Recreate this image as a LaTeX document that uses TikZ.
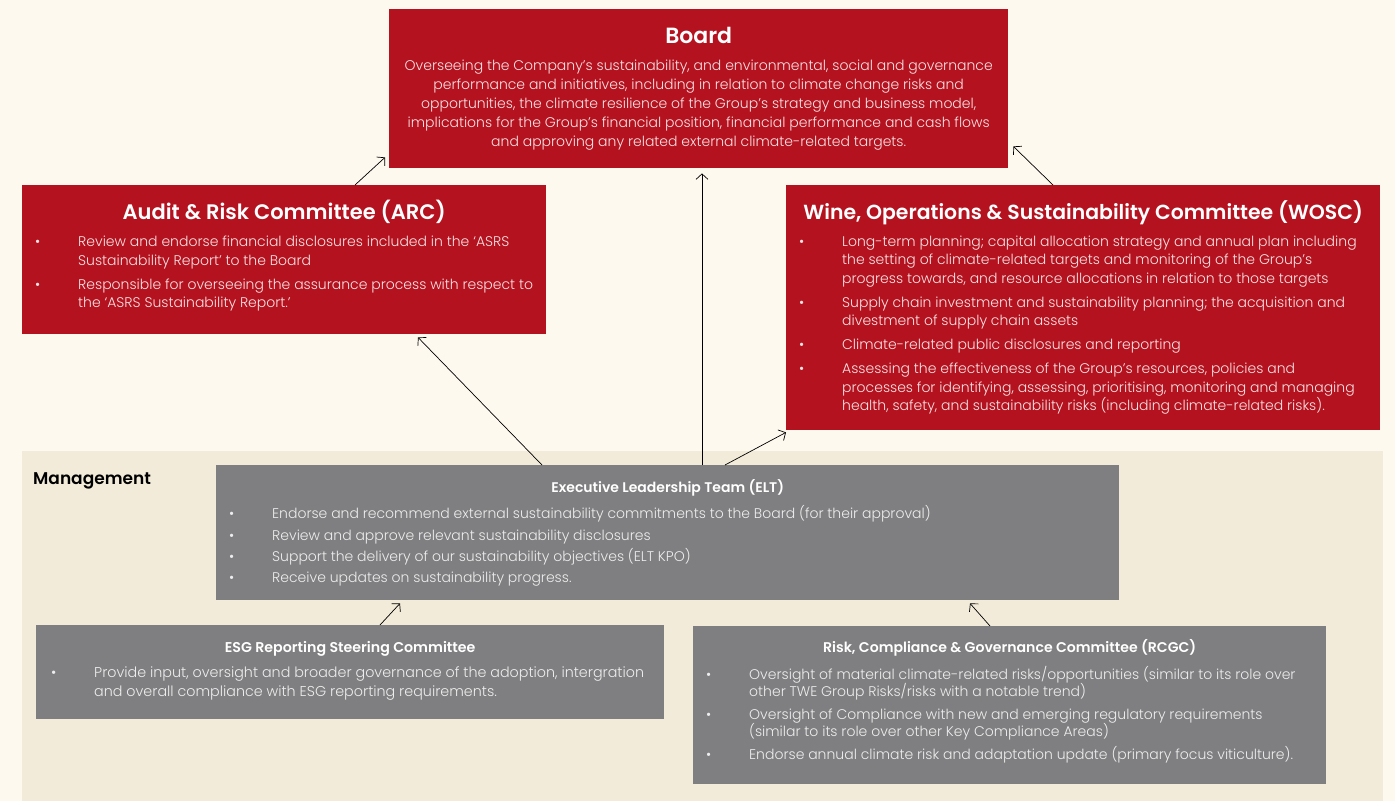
\documentclass[tikz,border=0pt]{standalone}
\usepackage{fontspec}
\setmainfont{Poppins}[UprightFont={* Light}, BoldFont={* SemiBold}]
\usepackage{tikz}
\usetikzlibrary{arrows.meta}

\definecolor{boardred}{HTML}{B5121F}
\definecolor{mgmtgrey}{HTML}{7F7F81}
\definecolor{pagecream}{HTML}{FEF9EE}
\definecolor{bandcream}{HTML}{F2EBD9}
\definecolor{redtext}{HTML}{F6E4E5}
\definecolor{greytext}{HTML}{EDEDED}

\newcommand{\panel}[3]{\begin{minipage}[t][#2][t]{#1}#3\end{minipage}}
\newcommand{\headline}[3]{{\centering\fontsize{#1}{#1}\selectfont\bfseries\rule{0pt}{#2}#3\par}}
\newcommand{\bodyset}[3]{\fontsize{#1}{#2}\selectfont\parskip=#3\leftskip=56pt\rightskip=0pt plus 1fil\relax}
\newcommand{\bpoint}[1]{\par\noindent\llap{\makebox[43pt][l]{•}}#1\par}

\tikzset{
  panelbox/.style={anchor=north west, inner sep=0pt, text=white},
  redbox/.style={panelbox, fill=boardred},
  greybox/.style={panelbox, fill=mgmtgrey},
  link/.style={-{Straight Barb[length=5.5pt,width=12pt]}, line width=0.7pt, black}
}

\begin{document}
\begin{tikzpicture}[x=1pt,y=-1pt]
% Page and management band
\useasboundingbox[fill=pagecream] (0,0) rectangle (1395,801);
\node[panelbox, fill=bandcream, minimum width=1361pt, minimum height=350pt] (mgmt) at (22,451) {};
\node[anchor=west, inner sep=0pt, font=\fontsize{17}{17}\selectfont\bfseries] (mgmtlabel) at ([xshift=11pt,yshift=-29.5pt]mgmt.north west) {Management};

% Board level
\node[redbox] (board) at (389,9) {\panel{619pt}{159pt}{%
  \headline{22}{34.7pt}{Board}
  \vspace{7.5pt}
  {\centering\fontsize{14}{19}\selectfont\color{redtext}
  Overseeing the Company’s sustainability, and environmental, social and governance\\
  performance and initiatives, including in relation to climate change risks and\\
  opportunities, the climate resilience of the Group’s strategy and business model,\\
  implications for the Group’s financial position, financial performance and cash flows\\
  and approving any related external climate-related targets.\par}}};

\node[redbox] (arc) at (22,185) {\panel{524pt}{149pt}{%
  \headline{21}{34.3pt}{Audit \& Risk Committee (ARC)}
  \bodyset{14}{18.5}{5.5pt}\color{redtext}
  \vspace{3pt}
  \bpoint{Review and endorse financial disclosures included in the ‘ASRS\\Sustainability Report’ to the Board}
  \bpoint{Responsible for overseeing the assurance process with respect to\\the ‘ASRS Sustainability Report.’}}};

\node[redbox] (wosc) at (786,185) {\panel{594pt}{245pt}{%
  \headline{20.4}{33.8pt}{Wine, Operations \& Sustainability Committee (WOSC)}
  \bodyset{14}{18.5}{5.5pt}\color{redtext}
  \vspace{3pt}
  \bpoint{Long-term planning; capital allocation strategy and annual plan including\\the setting of climate-related targets and monitoring of the Group’s\\progress towards, and resource allocations in relation to those targets}
  \bpoint{Supply chain investment and sustainability planning; the acquisition and\\divestment of supply chain assets}
  \bpoint{Climate-related public disclosures and reporting}
  \bpoint{Assessing the effectiveness of the Group’s resources, policies and\\processes for identifying, assessing, prioritising, monitoring and managing\\health, safety, and sustainability risks (including climate-related risks).}}};

% Management level
\node[greybox] (elt) at (216,465) {\panel{903pt}{135pt}{%
  \headline{14}{26.8pt}{Executive Leadership Team (ELT)}
  \bodyset{14}{18}{3.3pt}\color{greytext}
  \vspace{5.6pt}
  \bpoint{Endorse and recommend external sustainability commitments to the Board (for their approval)}
  \bpoint{Review and approve relevant sustainability disclosures}
  \bpoint{Support the delivery of our sustainability objectives (ELT KPO)}
  \bpoint{Receive updates on sustainability progress.}}};

\node[greybox] (esg) at (36,625) {\panel{628pt}{94pt}{%
  \headline{14.2}{26.9pt}{ESG Reporting Steering Committee}
  \bodyset{14.3}{19}{0pt}\color{greytext}\leftskip=58pt
  \vspace{6pt}
  \bpoint{Provide input, oversight and broader governance of the adoption, intergration\\and overall compliance with ESG reporting requirements.}}};

\node[greybox] (rcgc) at (693,626) {\panel{633pt}{158pt}{%
  \headline{14.1}{25.9pt}{Risk, Compliance \& Governance Committee (RCGC)}
  \bodyset{14}{17}{6pt}\color{greytext}
  \vspace{4.6pt}
  \bpoint{Oversight of material climate-related risks/opportunities (similar to its role over\\other TWE Group Risks/risks with a notable trend)}
  \bpoint{Oversight of Compliance with new and emerging regulatory requirements\\(similar to its role over other Key Compliance Areas)}
  \bpoint{Endorse annual climate risk and adaptation update (primary focus viticulture).}}};

% Reporting lines
\draw[link] ([xshift=333pt]arc.north west) -- ([xshift=-4pt,yshift=11pt]board.south west);
\draw[link] ([xshift=267pt]wosc.north west) -- ([xshift=5pt,yshift=22pt]board.south east);
\draw[link] ([xshift=486pt]elt.north west) -- ([xshift=486pt,yshift=-5pt]elt.north west |- board.south);
\draw[link] ([xshift=326pt]elt.north west) -- ([xshift=396pt,yshift=-3pt]arc.south west);
\draw[link] ([xshift=509pt]elt.north west) -- ([yshift=-2pt]wosc.south west);
\draw[link] ([xshift=344pt]esg.north west) -- ([xshift=184pt,yshift=-3pt]elt.south west);
\draw[link] ([xshift=297pt]rcgc.north west) -- ([xshift=754pt,yshift=-3pt]elt.south west);
\end{tikzpicture}
\end{document}
